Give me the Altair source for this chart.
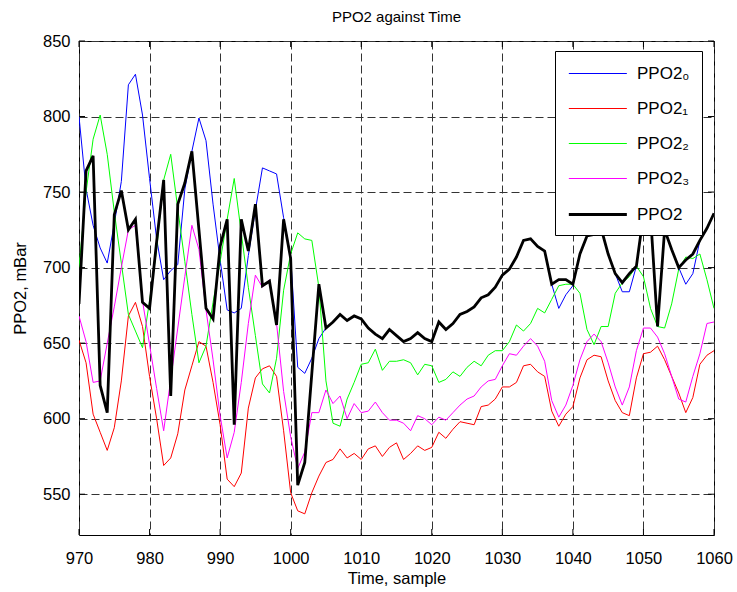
import altair as alt
import pandas as pd

samples = list(range(970, 1061))

ppo2_0 = [800, 752, 728, 713, 703, 729, 757, 821, 828, 801,
          759, 719, 692, 698, 702, 752, 777, 799, 784, 742,
          705, 672, 670, 673, 708, 738, 766, 764, 762, 733,
          707, 634, 630, 640, 653, 660, 664, 669, 665, 668,
          666, 660, 656, 653, 659, 655, 651, 653, 657, 653,
          651, 664, 659, 663, 669, 671, 674, 680, 682, 687,
          695, 699, 707, 718, 719, 714, 711, 689, 673, 682,
          688, 709, 721, 722, 726, 709, 696, 684, 684, 701,
          735, 735, 661, 725, 712, 700, 689, 696, 718, 726,
          736]

ppo2_1 = [652, 637, 603, 591, 579, 594, 625, 668, 677, 661,
          628, 600, 569, 574, 590, 619, 635, 651, 648, 624,
          596, 560, 555, 564, 607, 627, 633, 635, 628, 592,
          551, 539, 537, 551, 562, 571, 573, 580, 574, 577,
          573, 580, 582, 575, 581, 584, 573, 577, 582, 579,
          581, 591, 587, 593, 598, 597, 596, 608, 609, 613,
          621, 621, 624, 635, 636, 631, 628, 605, 595, 603,
          608, 627, 639, 642, 641, 625, 612, 604, 602, 627,
          643, 644, 648, 639, 628, 617, 604, 614, 636, 642,
          645]

ppo2_2 = [700, 750, 785, 801, 775, 737, 703, 669, 658, 647,
          678, 712, 758, 775, 739, 704, 669, 637, 648, 677,
          704, 732, 759, 723, 687, 655, 623, 617, 640, 685,
          709, 723, 719, 718, 687, 625, 597, 595, 613, 624,
          636, 637, 646, 632, 638, 638, 639, 637, 629, 636,
          635, 624, 626, 631, 628, 634, 638, 635, 642, 645,
          645, 651, 662, 658, 663, 673, 670, 679, 688, 689,
          689, 683, 659, 649, 661, 661, 683, 690, 694, 701,
          694, 673, 661, 660, 676, 699, 707, 706, 709, 692,
          673]

ppo2_3 = [668, 651, 624, 625, 650, 674, 700, 725, 728, 678,
          649, 620, 592, 626, 660, 694, 728, 712, 672, 639,
          602, 574, 591, 624, 663, 695, 687, 692, 663, 618,
          588, 567, 578, 604, 604, 619, 610, 615, 600, 610,
          604, 605, 611, 604, 599, 599, 597, 592, 602, 600,
          596, 601, 599, 604, 609, 613, 615, 621, 625, 626,
          635, 643, 642, 648, 653, 648, 638, 612, 601, 609,
          622, 639, 651, 656, 651, 637, 621, 609, 621, 645,
          660, 660, 654, 643, 628, 613, 611, 628, 643, 663,
          664]

ppo2 = [676, 764, 774, 622, 604, 735, 751, 725, 732, 677,
        673, 717, 758, 615, 742, 756, 777, 725, 673, 666,
        714, 732, 596, 732, 711, 742, 688, 691, 662, 732,
        706, 556, 571, 630, 689, 660, 664, 669, 665, 668,
        666, 660, 656, 653, 659, 655, 651, 653, 657, 653,
        651, 664, 659, 663, 669, 671, 674, 680, 682, 687,
        695, 699, 707, 718, 719, 714, 711, 689, 692, 692,
        689, 709, 721, 722, 726, 709, 696, 690, 696, 701,
        735, 735, 661, 725, 712, 700, 705, 709, 718, 726,
        736]

series_names = ["PPO2\u2080", "PPO2\u2081", "PPO2\u2082", "PPO2\u2083", "PPO2"]
series_colors = ["#0000ff", "#ff0000", "#00ff00", "#ff00ff", "#000000"]
series_widths = [1, 1, 1, 1, 2.8]

x_ticks = list(range(970, 1061, 10))
y_ticks = list(range(550, 851, 50))

rows = []
for name, vals in zip(series_names, [ppo2_0, ppo2_1, ppo2_2, ppo2_3, ppo2]):
    for s, v in zip(samples, vals):
        rows.append({"sample": s, "value": v, "series": name})
df = pd.DataFrame(rows)

W, H = 635, 494
FONT = "Liberation Sans"
xscale = alt.Scale(domain=[970, 1060], nice=False, zero=False)
yscale = alt.Scale(domain=[523, 850], nice=False, zero=False)
cscale = alt.Scale(domain=series_names, range=series_colors)
wscale = alt.Scale(type="ordinal", domain=series_names, range=series_widths)

x_axis = alt.Axis(values=x_ticks, title="Time, sample", grid=True, ticks=False,
                  domain=False, labelPadding=15, titlePadding=4, format="d",
                  labelFlush=False)
y_axis = alt.Axis(values=y_ticks, title="PPO2, mBar", grid=True, ticks=False,
                  domain=False, labelPadding=9, titlePadding=14, format="d")

# line symbol drawn from the left of the symbol column, 58 px long
leg = alt.Legend(title=None, orient="none", legendX=476, legendY=10,
                 symbolType="M-1,0H5", symbolSize=374, labelFontSize=17,
                 labelFont=FONT, labelColor="black", labelOffset=47,
                 fillColor="white", strokeColor="black", padding=12,
                 rowPadding=16, symbolOpacity=1, symbolFillColor="transparent")

lines = alt.Chart(df).mark_line(clip=True).encode(
    x=alt.X("sample:Q", scale=xscale, axis=x_axis),
    y=alt.Y("value:Q", scale=yscale, axis=y_axis),
    color=alt.Color("series:N", scale=cscale, legend=leg, sort=series_names),
    strokeWidth=alt.StrokeWidth("series:N", scale=wscale, legend=leg, sort=series_names),
)

xt = pd.DataFrame({"sample": x_ticks})
yt = pd.DataFrame({"value": y_ticks})

tick_bottom = alt.Chart(xt).mark_rule(color="black", strokeWidth=1).encode(
    x=alt.X("sample:Q", scale=xscale), y=alt.value(H), y2=alt.value(H - 6))
tick_top = alt.Chart(xt).mark_rule(color="black", strokeWidth=1).encode(
    x=alt.X("sample:Q", scale=xscale), y=alt.value(0), y2=alt.value(6))
tick_left = alt.Chart(yt).mark_rule(color="black", strokeWidth=1).encode(
    y=alt.Y("value:Q", scale=yscale), x=alt.value(0), x2=alt.value(6))
tick_right = alt.Chart(yt).mark_rule(color="black", strokeWidth=1).encode(
    y=alt.Y("value:Q", scale=yscale), x=alt.value(W - 6), x2=alt.value(W))

chart = alt.layer(tick_bottom, tick_top, tick_left, tick_right, lines).properties(
    width=W, height=H,
    title=alt.Title("PPO2 against Time", fontSize=15, fontWeight="normal", font=FONT,
                    color="black", anchor="middle", offset=8),
    autosize=alt.AutoSizeParams(type="none"),
    padding={"left": 79, "top": 41, "right": 23, "bottom": 57},
    background="white",
).configure_view(stroke="black", strokeWidth=1).configure_axis(
    labelFont=FONT, labelFontSize=16.5, labelColor="black",
    titleFont=FONT, titleFontSize=16.5, titleFontWeight="normal", titleColor="black",
    gridColor="#333333", gridDash=[8, 4], gridWidth=1, gridOpacity=1,
)

chart.save("out.html", embed_options={"renderer": "svg", "actions": False})
